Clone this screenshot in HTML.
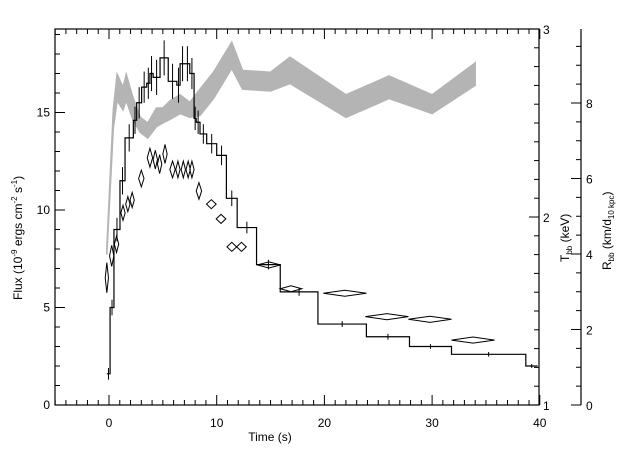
<!DOCTYPE html>
<html><head><meta charset="utf-8"><style>
body{margin:0;background:#fff}
svg{display:block;font-family:"Liberation Sans",sans-serif}
</style></head><body>
<svg id="c" width="640" height="457" viewBox="0 0 640 457">
<g id="band"></g>
<g id="hist"></g>
<g id="diam"></g>
<g id="axes"></g>
<text x="442" y="0" font-size="12" transform="translate(22,300) rotate(-90)"><tspan x="0" y="0">Flux (10</tspan><tspan font-size="8" dy="-5">-9</tspan><tspan dy="5"> ergs cm</tspan><tspan font-size="8" dy="-5">-2</tspan><tspan dy="5"> s</tspan><tspan font-size="8" dy="-5">-1</tspan><tspan dy="5">)</tspan></text>
<text x="270" y="441" font-size="12" text-anchor="middle">Time (s)</text>
<text font-size="12" transform="translate(569,262) rotate(-90)">T<tspan font-size="8" dy="3">bb</tspan><tspan dy="-3"> (keV)</tspan></text>
<text font-size="12" transform="translate(611,270) rotate(-90)">R<tspan font-size="8" dy="3">bb</tspan><tspan dy="-3"> (km/d</tspan><tspan font-size="8" dy="3">10 kpc</tspan><tspan dy="-3">)</tspan></text>
</svg>
<script>
// flux histogram
const fluxEdges=[-0.2,0.1,0.46,1.02,1.49,2.26,2.57,3.03,3.5,3.8,4.1,4.74,5.5,6.3,6.6,7.06,7.5,7.9,8.1,8.45,9.07,10.0,10.9,11.9,13.7,15.9,19.4,23.9,27.9,31.8,38.7,39.8];
const fluxVals=[1.6,5.0,9.0,11.5,13.7,14.6,15.5,16.3,16.5,17.0,16.8,17.8,16.6,16.4,17.5,17.5,17.0,14.7,14.5,13.9,13.4,12.8,10.6,9.1,7.2,5.8,4.15,3.5,3.0,2.6,2.0];
const fluxErr=[0.3,0.4,0.6,0.7,0.7,0.7,0.8,0.8,0.8,0.9,0.9,0.9,0.9,0.9,0.9,0.9,0.8,0.6,0.6,0.5,0.5,0.5,0.4,0.3,0.25,0.2,0.15,0.15,0.12,0.12,0.1];
// temperature band (keV)
const tempT=[-0.2,0.4,0.75,1.3,1.6,2.2,2.9,3.6,4.4,5.0,5.7,6.6,7.5,8.45,9.7,11.4,12.4,15.0,16.8,22.0,26.0,30.0,34.0];
const tempVal=[1.82,2.52,2.69,2.63,2.69,2.58,2.49,2.46,2.53,2.54,2.57,2.60,2.57,2.61,2.70,2.86,2.73,2.72,2.78,2.59,2.69,2.60,2.76];
const tempErr=[0.02,0.05,0.07,0.06,0.07,0.06,0.04,0.04,0.05,0.04,0.05,0.05,0.04,0.07,0.07,0.07,0.05,0.05,0.07,0.06,0.06,0.05,0.06];
// radius diamonds
const radT=[-0.2,0.25,0.7,1.3,1.75,2.15,3.0,3.8,4.3,4.7,5.2,5.9,6.4,6.9,7.35,7.7,8.35,9.5,10.4,11.4,12.3,14.85,16.9,21.9,25.8,29.8,33.8];
const radDT=[0.15,0.2,0.2,0.2,0.2,0.2,0.25,0.25,0.2,0.2,0.2,0.25,0.2,0.2,0.2,0.2,0.25,0.45,0.45,0.45,0.45,1.1,1.0,2.0,2.0,2.0,2.0];
const radVal=[3.37,3.95,4.26,5.09,5.32,5.43,6.0,6.55,6.5,6.38,6.65,6.24,6.24,6.24,6.24,6.24,5.67,5.32,4.93,4.19,4.19,3.71,3.08,2.96,2.34,2.27,1.72];
const radErr=[0.4,0.28,0.22,0.2,0.2,0.2,0.22,0.25,0.25,0.25,0.25,0.22,0.22,0.22,0.22,0.22,0.22,0.12,0.12,0.12,0.12,0.08,0.08,0.08,0.08,0.08,0.08];
const xTicks=[0,10,20,30,40], yTicks=[0,5,10,15], tTicks=[1,2,3], rTicks=[0,2,4,6,8];

const NS='http://www.w3.org/2000/svg';
const L=55,R=539,T=29,B=405,RX=581;
const X=t=>109+t*10.77;
const Y=f=>B-f*19.5;
const YT=k=>B-(k-1)*188;
const YR=r=>B-r*37.75;
function mk(tag,at,parent){const e=document.createElementNS(NS,tag);for(const k in at)e.setAttribute(k,at[k]);parent.appendChild(e);return e;}
const g=id=>document.getElementById(id);

// band
let up=tempT.map((t,i)=>X(t)+','+YT(tempVal[i]+tempErr[i]));
let dn=tempT.map((t,i)=>X(t)+','+YT(tempVal[i]-tempErr[i])).reverse();
const bp=mk('polygon',{points:up.concat(dn).join(' '),fill:'#b4b4b4',stroke:'#b4b4b4','stroke-width':1.5},g('band'));



// histogram
let d='';
fluxVals.forEach((v,i)=>{d+=(i?'L':'M')+X(fluxEdges[i])+' '+Y(v)+'L'+X(fluxEdges[i+1])+' '+Y(v);});
const hp=mk('path',{d:d,fill:'none',stroke:'#000','stroke-width':1.2},g('hist'));


fluxVals.forEach((v,i)=>{
  const c=X((fluxEdges[i]+fluxEdges[i+1])/2);
  const e=mk('line',{x1:c,x2:c,y1:Y(v-fluxErr[i]),y2:Y(v+fluxErr[i]),stroke:'#000','stroke-width':1},g('hist'));
  
  
});

// diamonds
radT.forEach((t,i)=>{
  const cx=X(t),cy=YR(radVal[i]),hw=radDT[i]*10.77,hh=radErr[i]*37.75;
  const p=mk('polygon',{points:`${cx-hw},${cy} ${cx},${cy-hh} ${cx+hw},${cy} ${cx},${cy+hh}`,fill:'none',stroke:'#000','stroke-width':1},g('diam'));
  
  
});

// axes
const ax=g('axes');
mk('rect',{x:L,y:T,width:R-L,height:B-T,fill:'none',stroke:'#000','stroke-width':1.2},ax);
mk('line',{x1:RX,x2:RX,y1:T,y2:B,stroke:'#000','stroke-width':1.2},ax);
for(let t=-5;t<=40;t++){const x=X(t),len=t%10===0?10:5;
  mk('line',{x1:x,x2:x,y1:B,y2:B-len,stroke:'#000'},ax);
  mk('line',{x1:x,x2:x,y1:T,y2:T+len,stroke:'#000'},ax);}
xTicks.forEach(v=>{const tx=mk('text',{x:X(v),y:427,'font-size':12,'text-anchor':'middle'},ax);tx.textContent=v;
  
  });
for(let f=0;f<=19;f++){const y=Y(f),len=f%5===0?10:5;mk('line',{x1:L,x2:L+len,y1:y,y2:y,stroke:'#000'},ax);}
yTicks.forEach(v=>{const tx=mk('text',{x:50,y:Y(v)+4,'font-size':12,'text-anchor':'end'},ax);tx.textContent=v;
  
  });
for(let k=10;k<=30;k++){const y=YT(k/10),len=k%10===0?10:5;mk('line',{x1:R,x2:R-len,y1:y,y2:y,stroke:'#000'},ax);}
tTicks.forEach(v=>{const tx=mk('text',{x:543,y:YT(v)+5,'font-size':12},ax);tx.textContent=v;
  
  });
for(let k=0;k<=19;k++){const y=YR(k/2),len=k%4===0?10:5;mk('line',{x1:RX,x2:RX-len,y1:y,y2:y,stroke:'#000'},ax);}
rTicks.forEach(v=>{const tx=mk('text',{x:586,y:YR(v)+5,'font-size':12},ax);tx.textContent=v;
  
  });
</script>
</body></html>
